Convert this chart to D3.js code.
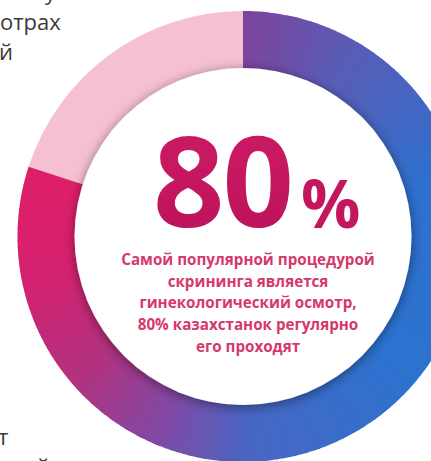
<!DOCTYPE html>
<html>
<head>
<meta charset="utf-8">
<script src="https://cdn.jsdelivr.net/npm/d3@7"></script>
<style>
  html, body { margin: 0; padding: 0; background: #fff; overflow: hidden; }
  svg { display: block; }
</style>
</head>
<body>
<div id="chart"></div>
<script>
// share of women who pass a gynecological exam
var categories = ['проходят', 'не проходят'];
var values = [80, 20];
var bigNumber = '80';
var bigUnit = '%';
var captionLines = [
    'Самой популярной процедурой',
    'скрининга является',
    'гинекологический осмотр,',
    '80% казахстанок регулярно',
    'его проходят'
];
// pieces of the neighbouring column text cut by the frame
var sideTextTop = ['у', 'отрах', 'й'];
var sideTextBottom = ['т', 'й'];

var width = 431, height = 461;
var cx = 243, cy = 236.5;
var rOuter = 225.5, rInner = 168.5;

// colour along the main arc (fraction of the arc -> colour)
var ringStops = [0, 0.1, 0.25, 0.45, 0.62, 0.7, 0.8, 0.9, 1];
var ringColors = ['#7d449c', '#5a5cb6', '#2f6fcd', '#2c72cf', '#4866c3', '#7f4aa6', '#b3317f', '#d52170', '#de1f67'];

var svg = d3.select('#chart').append('svg')
    .attr('width', width)
    .attr('height', height);

var defs = svg.append('defs');

var shadow = defs.append('filter').attr('id', 'discShadow')
    .attr('x', '-20%').attr('y', '-20%').attr('width', '140%').attr('height', '140%');
shadow.append('feGaussianBlur').attr('in', 'SourceAlpha').attr('stdDeviation', 6);
shadow.append('feOffset').attr('dx', 0).attr('dy', 2).attr('result', 'blur');
shadow.append('feComponentTransfer').append('feFuncA').attr('type', 'linear').attr('slope', 0.45);
var merge = shadow.append('feMerge');
merge.append('feMergeNode');
merge.append('feMergeNode').attr('in', 'SourceGraphic');

var pinkGrad = defs.append('radialGradient').attr('id', 'pinkGrad')
    .attr('gradientUnits', 'userSpaceOnUse')
    .attr('cx', cx).attr('cy', cy).attr('r', rOuter);
pinkGrad.append('stop').attr('offset', '74%').attr('stop-color', '#fce3eb');
pinkGrad.append('stop').attr('offset', '100%').attr('stop-color', '#f5c1d2');

var numGrad = defs.append('linearGradient').attr('id', 'numGrad')
    .attr('x1', 0).attr('y1', 0).attr('x2', 0).attr('y2', 1);
numGrad.append('stop').attr('offset', '0%').attr('stop-color', '#d11c66');
numGrad.append('stop').attr('offset', '100%').attr('stop-color', '#b8125a');

var g = svg.append('g').attr('transform', 'translate(' + cx + ',' + cy + ')');

var pie = d3.pie().sort(null).value(function(d) { return d; });
var arcs = pie(values);

var arc = d3.arc().innerRadius(rInner - 2).outerRadius(rOuter);
var colorAt = d3.scaleLinear().domain(ringStops).range(ringColors).interpolate(d3.interpolateRgb);

// main arc split into thin slices so the colour can sweep around the ring
var main = arcs[0];
var steps = 180;
var span = main.endAngle - main.startAngle;
g.append('g').selectAll('path')
    .data(d3.range(steps))
    .enter().append('path')
    .attr('d', function(i) {
        return arc({
            startAngle: main.startAngle + span * i / steps,
            endAngle: main.startAngle + span * (i + 1) / steps + 0.004
        });
    })
    .attr('fill', function(i) { return colorAt((i + 0.5) / steps); });

g.append('path')
    .attr('d', arc(arcs[1]))
    .attr('fill', 'url(#pinkGrad)');

// white disc in the middle
g.append('circle')
    .attr('r', rInner)
    .attr('fill', '#fff')
    .attr('filter', 'url(#discShadow)');

svg.append('text')
    .attr('x', 153).attr('y', 227)
    .attr('font-family', 'Open Sans, Noto Sans, sans-serif')
    .attr('font-weight', 700)
    .attr('font-size', 125)
    .attr('letter-spacing', -2)
    .attr('fill', 'url(#numGrad)')
    .text(bigNumber);

svg.append('text')
    .attr('x', 301).attr('y', 228)
    .attr('font-family', 'Open Sans, Noto Sans, sans-serif')
    .attr('font-weight', 700)
    .attr('font-size', 66)
    .attr('fill', '#c4165e')
    .text(bigUnit);

svg.append('g').selectAll('text')
    .data(captionLines)
    .enter().append('text')
    .attr('x', 248)
    .attr('y', function(d, i) { return 265 + i * 21.7; })
    .attr('text-anchor', 'middle')
    .attr('font-family', 'Open Sans, Noto Sans, sans-serif')
    .attr('font-weight', 700)
    .attr('font-size', 15.2)
    .attr('fill', '#d6386b')
    .text(function(d) { return d; });

// side text
var sideTop = [{ x: 45, y: 0 }, { x: 0, y: 30 }, { x: -1, y: 60 }];
svg.append('g').selectAll('text')
    .data(sideTextTop)
    .enter().append('text')
    .attr('x', function(d, i) { return sideTop[i].x; })
    .attr('y', function(d, i) { return sideTop[i].y; })
    .attr('font-family', 'Open Sans, sans-serif')
    .attr('font-size', 22)
    .attr('fill', '#3a3a3a')
    .text(function(d) { return d; });

var sideBottom = [{ x: -2, y: 445 }, { x: 36, y: 475 }];
svg.append('g').selectAll('text')
    .data(sideTextBottom)
    .enter().append('text')
    .attr('x', function(d, i) { return sideBottom[i].x; })
    .attr('y', function(d, i) { return sideBottom[i].y; })
    .attr('font-family', 'Open Sans, sans-serif')
    .attr('font-size', 22)
    .attr('fill', '#3a3a3a')
    .text(function(d) { return d; });
</script>
</body>
</html>
